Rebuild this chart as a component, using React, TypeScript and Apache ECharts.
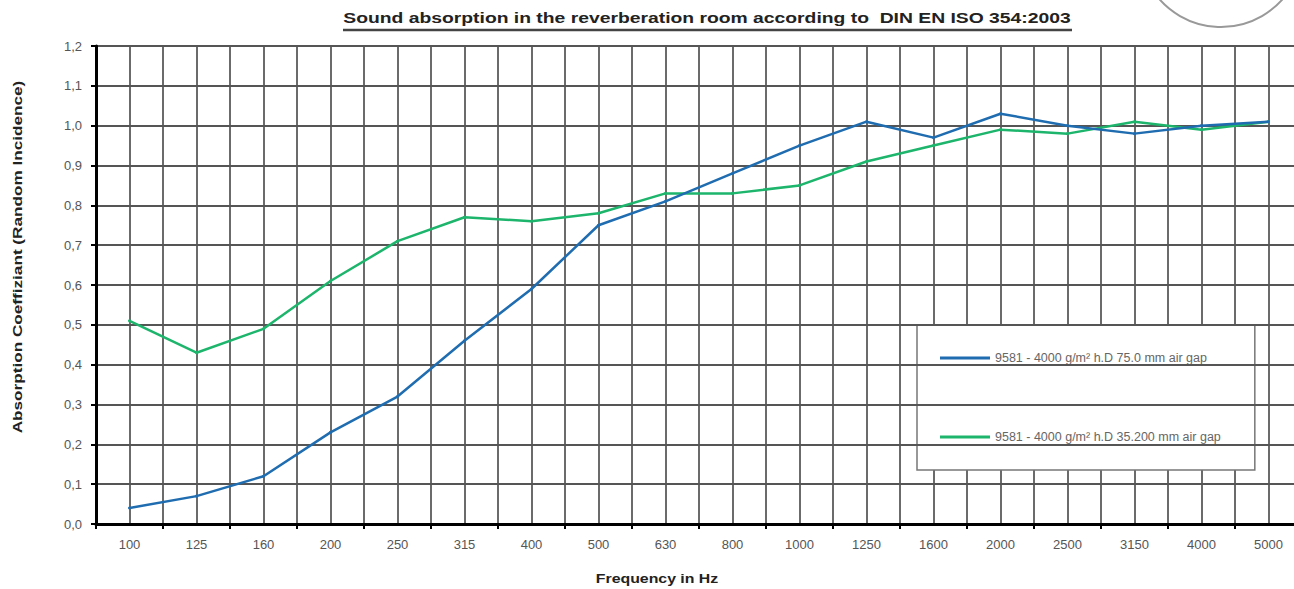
import React, { useEffect, useRef } from "react";
import * as echarts from "echarts";

const categories = ["100", "125", "160", "200", "250", "315", "400", "500", "630", "800", "1000", "1250", "1600", "2000", "2500", "3150", "4000", "5000"];
const blueSeries = [0.04, 0.07, 0.12, 0.23, 0.32, 0.46, 0.59, 0.75, 0.81, 0.88, 0.95, 1.01, 0.97, 1.03, 1.0, 0.98, 1.0, 1.01];
const greenSeries = [0.51, 0.43, 0.49, 0.61, 0.71, 0.77, 0.76, 0.78, 0.83, 0.83, 0.85, 0.91, 0.95, 0.99, 0.98, 1.01, 0.99, 1.01];
const blueName = "9581 - 4000 g/m² h.D 75.0 mm air gap";
const greenName = "9581 - 4000 g/m² h.D 35.200 mm air gap";
const titleText = "Sound absorption in the reverberation room according to  DIN EN ISO 354:2003";
const yAxisTitle = "Absorption Coeffiziant (Random Incidence)";
const xAxisTitle = "Frequency in Hz";

const FONT = "'Liberation Sans', Arial, sans-serif";

export default function App() {
  const ref = useRef<HTMLDivElement>(null);
  useEffect(() => {
    if (!ref.current) return;
    const chart = echarts.init(ref.current, undefined, { renderer: "svg" });
    chart.setOption({
      animation: false,
      backgroundColor: "#ffffff",
      textStyle: { fontFamily: FONT },
      grid: { left: 96, right: 8, top: 46, bottom: 65, containLabel: false },
      legend: {
        orient: "vertical",
        left: 917,
        top: 325,
        padding: [26, 34, 26, 23],
        itemGap: 65,
        itemWidth: 50,
        itemHeight: 3,
        icon: "rect",
        backgroundColor: "#ffffff",
        borderColor: "#777777",
        borderWidth: 1.5,
        textStyle: { fontSize: 12.5, lineHeight: 14, color: "#666666", fontFamily: FONT },
        data: [blueName, greenName],
      },
      xAxis: [
        {
          type: "category",
          data: categories,
          boundaryGap: true,
          axisLine: { lineStyle: { color: "#000000", width: 3 } },
          axisTick: { show: true, length: 5, lineStyle: { color: "#000000", width: 2 } },
          axisLabel: { color: "#555555", fontSize: 13, margin: 14, fontFamily: FONT },
          splitLine: { show: false },
          z: 5,
        },
        {
          type: "value",
          min: 0,
          max: 36,
          interval: 1,
          show: true,
          position: "top",
          axisLine: { show: false },
          axisTick: { show: false },
          axisLabel: { show: false },
          splitLine: { show: true, lineStyle: { color: "#3a3a3a", width: 1.5 } },
        },
      ],
      yAxis: {
        type: "value",
        min: 0,
        max: 1.2,
        interval: 0.1,
        axisLine: { show: true, lineStyle: { color: "#000000", width: 3 } },
        axisTick: { show: true, length: 5, lineStyle: { color: "#000000", width: 2 } },
        axisLabel: {
          color: "#555555",
          fontSize: 13,
          margin: 14,
          fontFamily: FONT,
          formatter: (v: number) => v.toFixed(1).replace(".", ","),
        },
        splitLine: { show: true, lineStyle: { color: "#555555", width: 2 } },
        z: 5,
      },
      series: [
        {
          name: "grid-helper",
          type: "line",
          xAxisIndex: 1,
          data: [],
          silent: true,
        },
        {
          name: blueName,
          type: "line",
          data: blueSeries,
          symbol: "circle",
          symbolSize: 3,
          color: "#1f6db0",
          lineStyle: { width: 2.5, color: "#1f6db0" },
          z: 10,
        },
        {
          name: greenName,
          type: "line",
          data: greenSeries,
          symbol: "circle",
          symbolSize: 3,
          color: "#1db56c",
          lineStyle: { width: 2.5, color: "#1db56c" },
          z: 9,
        },
      ],
      graphic: [
        {
          type: "text",
          x: 707,
          y: 18,
          scaleX: 1.38,
          style: {
            text: titleText,
            fontSize: 14,
            fontWeight: "bold",
            fontFamily: FONT,
            fill: "#222222",
            textAlign: "center",
            textVerticalAlign: "middle",
          },
        },
        {
          type: "line",
          shape: { x1: 343, y1: 30, x2: 1072, y2: 30 },
          style: { stroke: "#444444", lineWidth: 2.5 },
        },
        {
          type: "text",
          x: 17,
          y: 257,
          rotation: Math.PI / 2,
          scaleX: 1.32,
          style: {
            text: yAxisTitle,
            fontSize: 13,
            fontWeight: "bold",
            fontFamily: FONT,
            fill: "#222222",
            textAlign: "center",
            textVerticalAlign: "middle",
          },
        },
        {
          type: "text",
          x: 657,
          y: 579,
          scaleX: 1.27,
          style: {
            text: xAxisTitle,
            fontSize: 12.5,
            fontWeight: "bold",
            fontFamily: FONT,
            fill: "#222222",
            textAlign: "center",
            textVerticalAlign: "middle",
          },
        },
        {
          type: "circle",
          shape: { cx: 1221, cy: -55, r: 82 },
          style: { fill: "none", stroke: "#999999", lineWidth: 2 },
        },
      ],
    });
    return () => chart.dispose();
  }, []);
  return (
    <div style={{ position: "fixed", left: 0, top: 0, width: 1294, height: 589, overflow: "hidden", background: "#fff" }}>
      <div ref={ref} style={{ width: 1310, height: 589 }} />
    </div>
  );
}
